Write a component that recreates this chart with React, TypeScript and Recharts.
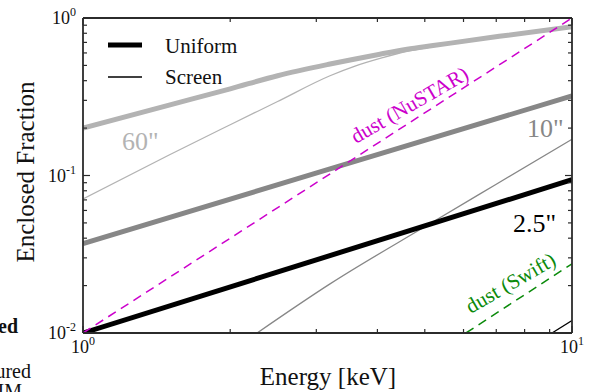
import { LineChart, Line, XAxis, YAxis, Legend } from 'recharts';

// tick positions (log axes, decades plus minor ticks)
const energyTicks = [1, 2, 3, 4, 5, 6, 7, 8, 9, 10];
const energyMajor = [1, 10];
const fractionTicks = [
  0.01, 0.02, 0.03, 0.04, 0.05, 0.06, 0.07, 0.08, 0.09,
  0.1, 0.2, 0.3, 0.4, 0.5, 0.6, 0.7, 0.8, 0.9, 1,
];
const fractionMajor = [0.01, 0.1, 1];
const decadeExponent: Record<string, string> = { '0.01': '-2', '0.1': '-1', '1': '0', '10': '1' };

// enclosed fraction vs energy [keV]
const uniform60 = [
  { e: 1, f: 0.2 }, { e: 1.5, f: 0.28 }, { e: 2, f: 0.355 }, { e: 2.5, f: 0.43 },
  { e: 3.2, f: 0.51 }, { e: 4, f: 0.585 }, { e: 4.6, f: 0.633 }, { e: 5.2, f: 0.668 },
  { e: 7.1, f: 0.765 }, { e: 10, f: 0.88 },
];
const screen60 = [
  { e: 1, f: 0.071 }, { e: 1.5, f: 0.135 }, { e: 2, f: 0.21 }, { e: 2.5, f: 0.295 },
  { e: 3.2, f: 0.43 }, { e: 3.6, f: 0.495 }, { e: 4.1, f: 0.56 }, { e: 4.6, f: 0.615 },
  { e: 5.2, f: 0.658 }, { e: 7.1, f: 0.76 }, { e: 10, f: 0.877 },
];
const uniform10 = [{ e: 1, f: 0.037 }, { e: 3.2, f: 0.11 }, { e: 10, f: 0.32 }];
const screen10 = [
  { e: 2.27, f: 0.01 }, { e: 3.2, f: 0.0205 }, { e: 5.1, f: 0.049 }, { e: 7, f: 0.088 }, { e: 10, f: 0.17 },
];
const uniform25 = [{ e: 1, f: 0.01 }, { e: 10, f: 0.094 }];
const screen25 = [{ e: 9.1, f: 0.01 }, { e: 10, f: 0.012 }];
const dustNustar = [{ e: 1, f: 0.01 }, { e: 10, f: 1 }];
const dustSwift = [{ e: 6.07, f: 0.01 }, { e: 10, f: 0.0275 }];

const FONT = '"Liberation Serif", "Times New Roman", serif';
const FRAME = '#2b2b2b';

type Side = 'bottom' | 'top' | 'left' | 'right';

const makeTick = (side: Side) => (props: any) => {
  const { x, y, payload } = props;
  const v = payload.value;
  const major = side === 'bottom' || side === 'top' ? energyMajor.includes(v) : fractionMajor.includes(v);
  const len = major ? 7 : 4;
  let x2 = x, y2 = y;
  if (side === 'bottom') y2 = y - len;
  if (side === 'top') y2 = y + len;
  if (side === 'left') x2 = x + len;
  if (side === 'right') x2 = x - len;
  const exp = decadeExponent[String(v)];
  return (
    <g>
      <line x1={x} y1={y} x2={x2} y2={y2} stroke={FRAME} strokeWidth={1.2} />
      {major && side === 'bottom' && (
        <text x={x} y={y + 20} textAnchor="middle" fontFamily={FONT} fontSize={18} fill="#111">
          <tspan>10</tspan>
          <tspan dy={-8} fontSize={12}>{exp}</tspan>
        </text>
      )}
      {major && side === 'left' && (
        <text x={x - 7} y={y + 6} textAnchor="end" fontFamily={FONT} fontSize={18} fill="#111">
          <tspan>10</tspan>
          <tspan dy={-8} fontSize={12}>{exp}</tspan>
        </text>
      )}
    </g>
  );
};

function LegendBox() {
  return (
    <svg width={200} height={64} style={{ overflow: 'visible' }}>
      <line x1={8} y1={15} x2={42} y2={15} stroke="#000" strokeWidth={5} />
      <text x={65} y={23} fontFamily={FONT} fontSize={21} fill="#111">Uniform</text>
      <line x1={8} y1={47} x2={42} y2={47} stroke="#000" strokeWidth={1.3} />
      <text x={65} y={54} fontFamily={FONT} fontSize={21} fill="#111">Screen</text>
    </svg>
  );
}

export default function App() {
  const axisLine = { stroke: FRAME, strokeWidth: 1.8 };
  return (
    <div style={{ position: 'absolute', left: 0, top: 0, width: 593, height: 392, background: '#fff' }}>
      <LineChart width={593} height={392} margin={{ top: 17, right: 20, bottom: 58, left: 82 }}>
        <XAxis dataKey="e" type="number" scale="log" domain={[1, 10]} allowDataOverflow ticks={energyTicks}
          interval={0} height={1} tickSize={0} tickMargin={0} axisLine={axisLine} tickLine={false}
          tick={makeTick('bottom')} />
        <XAxis xAxisId="top" orientation="top" dataKey="e" type="number" scale="log" domain={[1, 10]}
          allowDataOverflow ticks={energyTicks} interval={0} height={1} tickSize={0} tickMargin={0}
          axisLine={axisLine} tickLine={false} tick={makeTick('top')} />
        <YAxis type="number" scale="log" domain={[0.01, 1]} allowDataOverflow ticks={fractionTicks}
          interval={0} width={1} tickSize={0} tickMargin={0} axisLine={axisLine} tickLine={false}
          tick={makeTick('left')} />
        <YAxis yAxisId="right" orientation="right" type="number" scale="log" domain={[0.01, 1]}
          allowDataOverflow ticks={fractionTicks} interval={0} width={1} tickSize={0} tickMargin={0}
          axisLine={axisLine} tickLine={false} tick={makeTick('right')} />
        <Legend layout="vertical" verticalAlign="middle" align="center" content={() => <LegendBox />}
          wrapperStyle={{ position: 'absolute', left: 100, top: 30, width: 200, height: 64 }} />

        <Line data={screen60} dataKey="f" type="monotone" stroke="#b3b3b3" strokeWidth={1.3} dot={false} isAnimationActive={false} />
        <Line data={uniform60} dataKey="f" type="monotone" stroke="#b3b3b3" strokeWidth={5} dot={false} isAnimationActive={false} />
        <Line data={uniform10} dataKey="f" type="monotone" stroke="#878787" strokeWidth={5} dot={false} isAnimationActive={false} />
        <Line data={screen10} dataKey="f" type="monotone" stroke="#878787" strokeWidth={1.3} dot={false} isAnimationActive={false} />
        <Line data={uniform25} dataKey="f" type="linear" stroke="#000" strokeWidth={5} dot={false} isAnimationActive={false} />
        <Line data={screen25} dataKey="f" type="linear" stroke="#000" strokeWidth={1.3} dot={false} isAnimationActive={false} />
        <Line data={dustNustar} dataKey="f" type="linear" stroke="#cc00cc" strokeWidth={1.5} strokeDasharray="9 6" dot={false} isAnimationActive={false} />
        <Line data={dustSwift} dataKey="f" type="linear" stroke="#0a8a0a" strokeWidth={1.5} strokeDasharray="9 6" dot={false} isAnimationActive={false} />
      </LineChart>

      <svg width={593} height={392} style={{ position: 'absolute', left: 0, top: 0, pointerEvents: 'none' }}
        fontFamily={FONT}>
        <text x={34} y={172} transform="rotate(-90, 34, 172)" textAnchor="middle" fontSize={25} fill="#111">Enclosed Fraction</text>
        <text x={328} y={385} textAnchor="middle" fontSize={25} fill="#111">Energy [keV]</text>
        <text x={122} y={150} fontSize={26} fill="#b3b3b3">60"</text>
        <text x={527} y={137} fontSize={26} fill="#878787">10"</text>
        <text x={513} y={232} fontSize={26} fill="#000">2.5"</text>
        <text x={413} y={111} transform="rotate(-30, 413, 111)" textAnchor="middle" fontSize={21} fill="#cc00cc">dust (NuSTAR)</text>
        <text x={514} y={289} transform="rotate(-30, 514, 289)" textAnchor="middle" fontSize={21} fill="#0a8a0a">dust (Swift)</text>
        <text x={18} y={333} textAnchor="end" fontSize={20} fontWeight="bold" fill="#111">ed</text>
        <text x={31} y={378} textAnchor="end" fontSize={20} fill="#111">ured</text>
        <text x={22} y={398} textAnchor="end" fontSize={20} fill="#111">IM</text>
      </svg>
    </div>
  );
}
